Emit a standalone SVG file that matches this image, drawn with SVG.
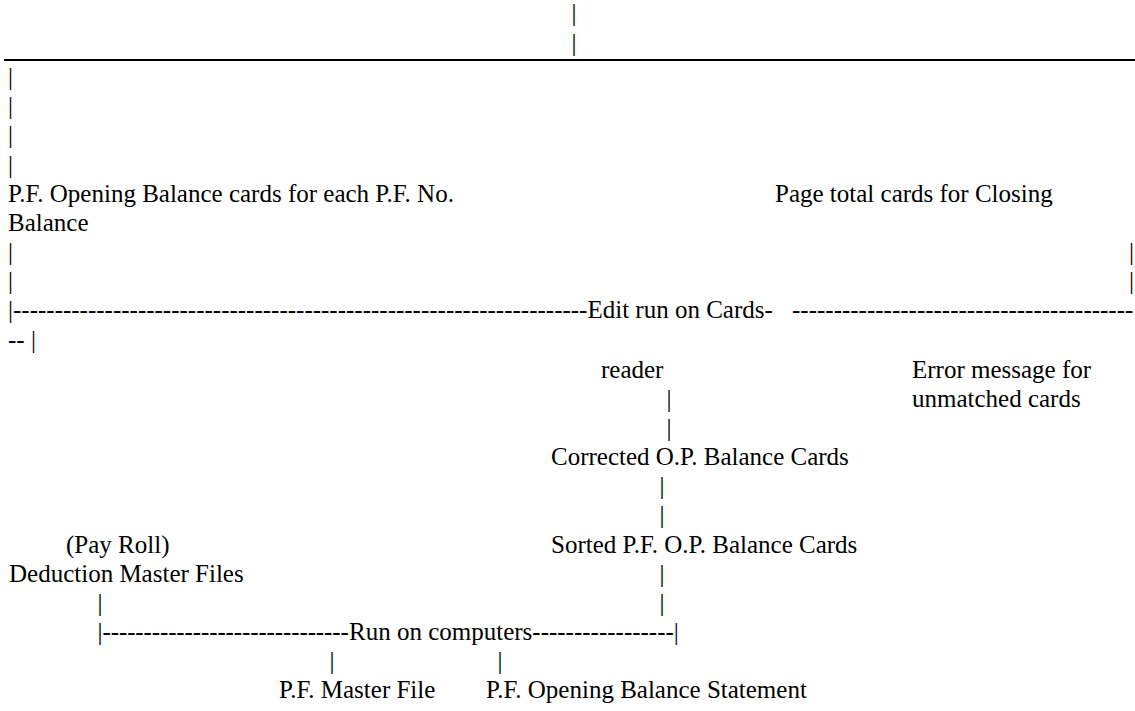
<svg xmlns="http://www.w3.org/2000/svg" width="1135" height="711" viewBox="0 0 1135 711">
<style>
text { font-family: "Liberation Serif", "Times New Roman", serif; font-size: 25px; fill: #000; white-space: pre; }
.rule { stroke: #000; stroke-width: 2.2; }
</style>
<rect width="1135" height="711" fill="#fff"/>
<g opacity="0.999">
<g id="connectors">
  <text x="571.5" y="21">|</text>
  <text x="571.5" y="51">|</text>
  <line class="rule" x1="4" y1="60" x2="1135" y2="60"/>
  <text x="8" y="85">|</text>
  <text x="8" y="114">|</text>
  <text x="8" y="143">|</text>
  <text x="8" y="173">|</text>
  <text x="8" y="260">|</text>
  <text x="8" y="289">|</text>
  <text x="1129" y="260">|</text>
  <text x="1129" y="289">|</text>
  <text y="318" xml:space="preserve"><tspan x="8">|---------------------------------------------------------------------Edit run on Cards-</tspan><tspan x="792">-----------------------------------------</tspan></text>
  <text x="8" y="348" xml:space="preserve">-- |</text>
  <text x="666.5" y="407">|</text>
  <text x="666.5" y="436">|</text>
  <text x="659.5" y="494">|</text>
  <text x="659.5" y="523">|</text>
  <text x="659.5" y="582">|</text>
  <text x="659.5" y="611">|</text>
  <text x="97.5" y="611">|</text>
  <text y="640"><tspan x="97.5">|</tspan><tspan letter-spacing="-0.12">------------------------------</tspan><tspan x="349">Run on computers-----------------|</tspan></text>
  <text x="329.5" y="669">|</text>
  <text x="497.5" y="669">|</text>
</g>
<g id="node-opening-cards">
  <text x="8" y="202">P.F. Opening Balance cards for each P.F. No.</text>
  <text x="8" y="231">Balance</text>
</g>
<g id="node-page-total">
  <text x="775" y="202">Page total cards for Closing</text>
</g>
<g id="node-reader">
  <text x="601" y="378">reader</text>
</g>
<g id="node-error">
  <text x="912" y="378">Error message for</text>
  <text x="912" y="407">unmatched cards</text>
</g>
<g id="node-corrected">
  <text x="551" y="465">Corrected O.P. Balance Cards</text>
</g>
<g id="node-sorted">
  <text x="551" y="553">Sorted P.F. O.P. Balance Cards</text>
</g>
<g id="node-deduction">
  <text x="66" y="553">(Pay Roll)</text>
  <text x="9" y="582">Deduction Master Files</text>
</g>
<g id="node-master">
  <text x="279" y="698">P.F. Master File</text>
</g>
<g id="node-statement">
  <text x="486" y="698">P.F. Opening Balance Statement</text>
</g>
</g>
</svg>
